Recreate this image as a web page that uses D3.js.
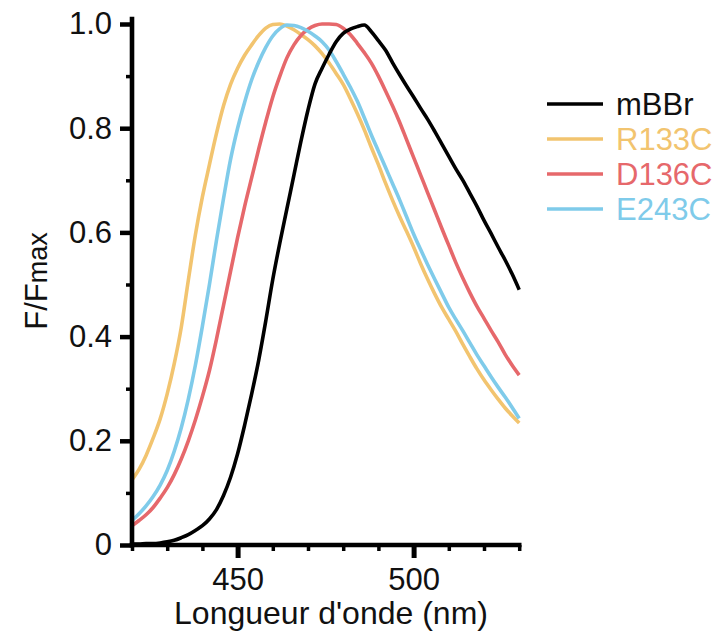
<!DOCTYPE html>
<html><head><meta charset="utf-8">
<script src="https://cdn.jsdelivr.net/npm/d3@7"></script>
<style>body{margin:0;background:#fff}</style>
</head><body>
<svg id="chart" width="716" height="633"></svg>
<script>
const wavelengths = [420,422,424,426,428,430,432,434,436,438,440,442,444,446,448,450,452,454,456,458,460,462,464,466,468,470,472,474,476,478,480,482,484,486,488,490,492,494,496,498,500,502,504,506,508,510,512,514,516,518,520,522,524,526,528,530];

const mBBr = [0.002,0.002,0.003,0.003,0.004,0.006,0.009,0.014,0.02,0.028,0.037,0.05,0.068,0.095,0.13,0.175,0.23,0.29,0.355,0.43,0.51,0.58,0.645,0.71,0.775,0.835,0.885,0.915,0.942,0.966,0.982,0.99,0.995,0.998,0.985,0.968,0.95,0.926,0.903,0.881,0.86,0.838,0.817,0.794,0.77,0.746,0.722,0.70,0.675,0.65,0.623,0.598,0.572,0.547,0.52,0.49];

const R133C = [0.125,0.145,0.172,0.205,0.242,0.29,0.348,0.418,0.508,0.595,0.668,0.73,0.79,0.843,0.884,0.915,0.94,0.96,0.978,0.992,0.999,1.0,0.996,0.989,0.98,0.97,0.958,0.943,0.925,0.905,0.884,0.857,0.828,0.797,0.763,0.73,0.695,0.662,0.631,0.602,0.572,0.54,0.51,0.482,0.456,0.433,0.41,0.385,0.361,0.338,0.317,0.298,0.28,0.263,0.248,0.234];

const D136C = [0.037,0.047,0.058,0.072,0.09,0.11,0.135,0.165,0.2,0.24,0.285,0.335,0.395,0.46,0.525,0.59,0.65,0.705,0.76,0.812,0.86,0.9,0.935,0.96,0.978,0.99,0.997,1.0,1.0,0.999,0.992,0.98,0.963,0.945,0.925,0.9,0.872,0.843,0.812,0.778,0.744,0.71,0.676,0.642,0.608,0.575,0.542,0.512,0.484,0.458,0.435,0.412,0.39,0.366,0.345,0.326];

const E243C = [0.047,0.06,0.075,0.093,0.115,0.143,0.18,0.225,0.28,0.345,0.42,0.5,0.585,0.665,0.74,0.8,0.85,0.893,0.927,0.955,0.977,0.991,0.998,0.997,0.993,0.986,0.977,0.966,0.95,0.928,0.904,0.879,0.852,0.82,0.787,0.756,0.725,0.694,0.663,0.63,0.597,0.567,0.538,0.51,0.483,0.456,0.433,0.411,0.388,0.365,0.344,0.323,0.303,0.284,0.264,0.243];

const seriesNames = ["mBBr", "R133C", "D136C", "E243C"];
const seriesColors = ["#000000", "#f2c46f", "#e6686b", "#7fcbea"];
const drawOrder = ["R133C", "D136C", "E243C", "mBBr"];

const yMajorTicks = [0, 0.2, 0.4, 0.6, 0.8, 1.0];
const yTickLabels = ["0", "0.2", "0.4", "0.6", "0.8", "1.0"];
const yMinorTicks = [0.1, 0.3, 0.5, 0.7, 0.9];
const xMajorTicks = [450, 500];
const xTickLabels = ["450", "500"];
const xMinorTicks = [420, 430, 440, 460, 470, 480, 490, 510, 520, 530];

const xTitle = "Longueur d'onde (nm)";

const seriesData = {mBBr, R133C, D136C, E243C};
const FONT = "'Liberation Sans', Arial, Helvetica, sans-serif";
const svg = d3.select('#chart');

const x = d3.scaleLinear().domain([420, 530]).range([132, 519.2]);
const y = d3.scaleLinear().domain([0, 1]).range([545, 24]);

// curves
const line = d3.line()
  .x((d, i) => x(wavelengths[i]))
  .y(d => y(d))
  .curve(d3.curveMonotoneX);

drawOrder.forEach(name => {
  const idx = seriesNames.indexOf(name);
  svg.append('path')
    .datum(seriesData[name])
    .attr('fill', 'none')
    .attr('stroke', seriesColors[idx])
    .attr('stroke-width', 3.6)
    .attr('stroke-linejoin', 'round')
    .attr('d', line);
});

// y axis
const gyMinor = svg.append('g').attr('transform', 'translate(132,0)')
  .call(d3.axisLeft(y).tickValues(yMinorTicks).tickSize(6).tickFormat('').tickSizeOuter(0));
gyMinor.select('.domain').remove();
gyMinor.selectAll('line').attr('stroke', '#000').attr('stroke-width', 3.5);

const gy = svg.append('g').attr('transform', 'translate(132,0)')
  .call(d3.axisLeft(y).tickValues(yMajorTicks).tickSize(12).tickPadding(8)
    .tickFormat((d, i) => yTickLabels[i]).tickSizeOuter(0));
gy.select('.domain').remove();
gy.selectAll('line').attr('stroke', '#000').attr('stroke-width', 4.5);
gy.selectAll('text').attr('font-family', FONT).attr('font-size', 31).attr('fill', '#111');

// x axis
const gxMinor = svg.append('g').attr('transform', 'translate(0,545)')
  .call(d3.axisBottom(x).tickValues(xMinorTicks).tickSize(6).tickFormat('').tickSizeOuter(0));
gxMinor.select('.domain').remove();
gxMinor.selectAll('line').attr('stroke', '#000').attr('stroke-width', 3.5);

const gx = svg.append('g').attr('transform', 'translate(0,545)')
  .call(d3.axisBottom(x).tickValues(xMajorTicks).tickSize(13).tickPadding(10)
    .tickFormat((d, i) => xTickLabels[i]).tickSizeOuter(0));
gx.select('.domain').remove();
gx.selectAll('line').attr('stroke', '#000').attr('stroke-width', 5);
gx.selectAll('text').attr('font-family', FONT).attr('font-size', 31).attr('fill', '#111');

// spines
svg.append('line').attr('x1', 132).attr('x2', 132).attr('y1', y(1) - 5).attr('y2', y(0))
  .attr('stroke', '#000').attr('stroke-width', 4.6).attr('stroke-linecap', 'square');
svg.append('line').attr('x1', 132).attr('x2', x(530)).attr('y1', y(0)).attr('y2', y(0))
  .attr('stroke', '#000').attr('stroke-width', 4.6).attr('stroke-linecap', 'square');

// axis titles
svg.append('text').attr('x', 331).attr('y', 624).attr('text-anchor', 'middle')
  .attr('font-family', FONT).attr('font-size', 32).attr('fill', '#111').text(xTitle);

const yt = svg.append('text').attr('transform', 'translate(47,281) rotate(-90)')
  .attr('text-anchor', 'middle').attr('font-family', FONT).attr('font-size', 31).attr('fill', '#111');
yt.append('tspan').text('F/F');
yt.append('tspan').attr('font-size', 27).text('max');

// legend
const lg = svg.append('g');
seriesNames.forEach((name, i) => {
  const ly = 104 + i * 35;
  lg.append('line').attr('x1', 547).attr('x2', 603).attr('y1', ly).attr('y2', ly)
    .attr('stroke', seriesColors[i]).attr('stroke-width', 3.6);
  lg.append('text').attr('x', 616).attr('y', ly + 11)
    .attr('font-family', FONT).attr('font-size', 31).attr('fill', seriesColors[i] === '#000000' ? '#111' : seriesColors[i])
    .text(name);
});
</script>
</body></html>
